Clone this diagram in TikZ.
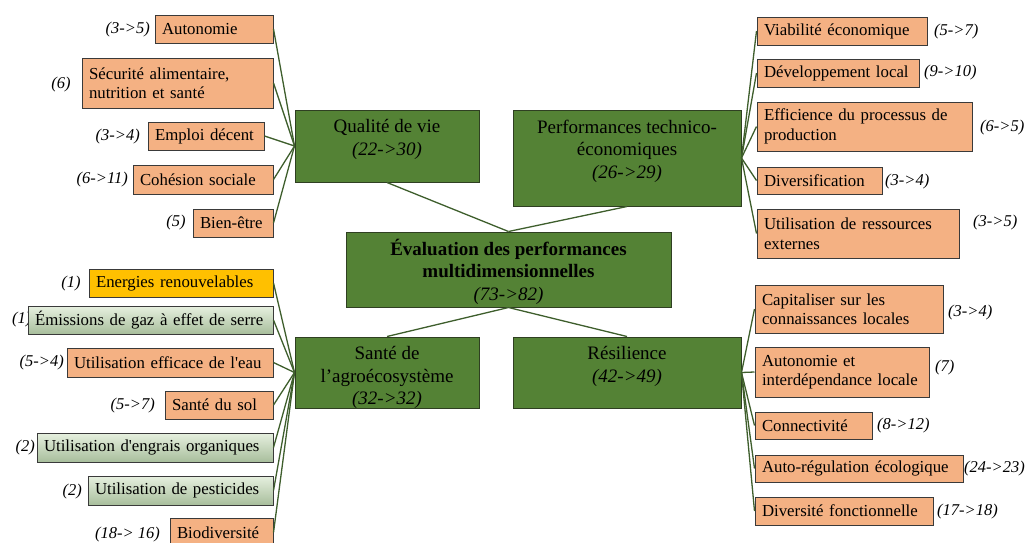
\documentclass[tikz,border=0pt]{standalone}
\usepackage{fontspec}
\setmainfont{Liberation Serif}[Ligatures=TeXOff]
\definecolor{orf}{HTML}{F4B183}
\definecolor{gold}{HTML}{FFC000}
\definecolor{grt}{HTML}{E6F0DF}
\definecolor{grb}{HTML}{A8BE9C}
\definecolor{gf}{HTML}{548235}
\definecolor{gbd}{HTML}{2F3F22}
\definecolor{boxb}{HTML}{3A3A3A}
\definecolor{lineg}{HTML}{3E5E2C}
\newcommand\ofont{\fontsize{16.8}{19.5}\selectfont}
\newcommand\gfont{\fontsize{19}{22.5}\selectfont}
\newcommand\lfont{\fontsize{16.5}{19}\selectfont\itshape}
\newcommand\bx[7]{%
  \pgfmathsetmacro\bxw{#5-#3}\pgfmathsetmacro\bxh{#6-#4}\pgfmathsetmacro\bxt{#5-#3-14}%
  \node[#2, minimum width=\bxw pt, minimum height=\bxh pt, text width=\bxt pt] (#1) at ({(#3+#5)/2},{(#4+#6)/2}) {#7};}
\begin{document}
\begin{tikzpicture}[x=1pt,y=-1pt,
  conn/.style={draw=lineg, line width=1.3pt},
  obox/.style={draw=boxb, line width=1pt, fill=orf, inner xsep=7pt, inner ysep=0pt, align=left, font=\ofont},
  gobox/.style={obox, top color=grt, bottom color=grb},
  yobox/.style={obox, fill=gold},
  gbox/.style={draw=gbd, fill=gf, line width=1pt, inner sep=0pt},
  gtext/.style={align=center, font=\gfont, anchor=north, inner ysep=10pt},
  lab/.style={font=\lfont, inner sep=0pt},
]
\useasboundingbox (0,0) rectangle (1031,542);
\clip (0,0) rectangle (1031,542);

% ---- green main boxes
\node[gbox, minimum width=184pt, minimum height=72pt] (Q) at (387,146) {};
\node[gtext] (Qt) at (Q.north) {Qualité de vie\\\textit{(22->30)}};
\node[gbox, minimum width=228pt, minimum height=96pt] (P) at (627,158) {};
\node[gtext] (Pt) at (P.north) {Performances technico-\\économiques\\\textit{(26->29)}};
\node[gbox, minimum width=325pt, minimum height=75pt] (C) at (508.5,269.5) {};
\node[gtext, inner ysep=7pt] (Ct) at (C.north) {{\bfseries Évaluation des performances}\\{\bfseries multidimensionnelles}\\\textit{(73->82)}};
\node[gbox, minimum width=184pt, minimum height=71pt] (S) at (387,372.5) {};
\node[gtext] (St) at (S.north) {Santé de\\l’agroécosystème\\\textit{(32->32)}};
\node[gbox, minimum width=228pt, minimum height=71pt] (R) at (627,372.5) {};
\node[gtext] (Rt) at (R.north) {Résilience\\\textit{(42->49)}};

\draw[conn] (Q.south) -- (C.north);
\draw[conn] (P.south) -- (C.north);
\draw[conn] (C.south) -- (S.north);
\draw[conn] (C.south) -- (R.north);

% ---- labels (drawn before boxes)
\node[lab, anchor=east] (la1) at (150,30) {(3->5)};
\node[lab] (la2) at (61,85) {(6)};
\node[lab, anchor=east] (la3) at (140,137) {(3->4)};
\node[lab, anchor=east] (la4) at (128,180) {(6->11)};
\node[lab] (la5) at (176,223) {(5)};

\node[lab, anchor=west] (lb1) at (934,32) {(5->7)};
\node[lab, anchor=west] (lb2) at (924,73) {(9->10)};
\node[lab, anchor=west] (lb3) at (980,128) {(6->5)};
\node[lab, anchor=west] (lb4) at (885,182) {(3->4)};
\node[lab, anchor=west] (lb5) at (973,223) {(3->5)};

\node[lab] (lc1) at (71,284) {(1)};
\node[lab, anchor=west] (lc2) at (12,320) {(1)};
\node[lab, anchor=east] (lc3) at (64,363) {(5->4)};
\node[lab, anchor=east] (lc4) at (155,406) {(5->7)};
\node[lab, anchor=east] (lc5) at (35,448) {(2)};
\node[lab, anchor=east] (lc6) at (82,492) {(2)};
\node[lab, anchor=east] (lc7) at (160,535) {(18-> 16)};

\node[lab, anchor=west] (ld1) at (948,313) {(3->4)};
\node[lab, anchor=west] (ld2) at (935,368) {(7)};
\node[lab, anchor=west] (ld3) at (877,426) {(8->12)};
\node[lab, anchor=west] (ld4) at (964,469) {(24->23)};
\node[lab, anchor=west] (ld5) at (937,512) {(17->18)};

% ---- child boxes
\bx{a1}{obox}{155}{15}{273}{43}{Autonomie}
\bx{a2}{obox}{82}{58}{273}{108}{Sécurité alimentaire,\\nutrition et santé}
\bx{a3}{obox}{148}{122}{264}{150}{Emploi décent}
\bx{a4}{obox}{133}{165}{273}{194}{Cohésion sociale}
\bx{a5}{obox}{193}{209}{273}{237}{Bien-être}

\bx{b1}{obox}{757}{17}{927}{45}{Viabilité économique}
\bx{b2}{obox}{757}{59}{919}{87}{Développement local}
\bx{b3}{obox}{757}{102}{972}{151}{Efficience du processus de\\production}
\bx{b4}{obox}{757}{167}{882}{194}{Diversification}
\bx{b5}{obox}{757}{209}{959}{258}{Utilisation de ressources\\externes}

\bx{c1}{yobox}{89}{269}{273}{297}{Energies renouvelables}
\bx{c2}{gobox}{28}{306}{273}{334}{Émissions de gaz à effet de serre}
\bx{c3}{obox}{67}{348}{273}{377}{Utilisation efficace de l'eau}
\bx{c4}{obox}{165}{391}{273}{419}{Santé du sol}
\bx{c5}{gobox}{37}{433}{273}{462}{Utilisation d'engrais organiques}
\bx{c6}{gobox}{88}{476}{273}{505}{Utilisation de pesticides}
\bx{c7}{obox}{170}{518}{273}{547}{Biodiversité}

\bx{d1}{obox}{755}{285}{943}{333}{Capitaliser sur les\\connaissances locales}
\bx{d2}{obox}{755}{347}{929}{397}{Autonomie et\\interdépendance locale}
\bx{d3}{obox}{755}{412}{872}{439}{Connectivité}
\bx{d4}{obox}{755}{455}{963}{482}{Auto-régulation écologique}
\bx{d5}{obox}{755}{497}{933}{525}{Diversité fonctionnelle}

% ---- connectors
\foreach \n in {a1,a2,a3,a4,a5} \draw[conn] (\n.east) -- (Q.west);
\foreach \n in {b1,b2,b3,b4,b5} \draw[conn] (P.east) -- (\n.west);
\foreach \n in {c1,c2,c3,c4,c5,c6,c7} \draw[conn] (\n.east) -- (S.west);
\foreach \n in {d1,d2,d3,d4,d5} \draw[conn] (R.east) -- (\n.west);
\end{tikzpicture}
\end{document}
